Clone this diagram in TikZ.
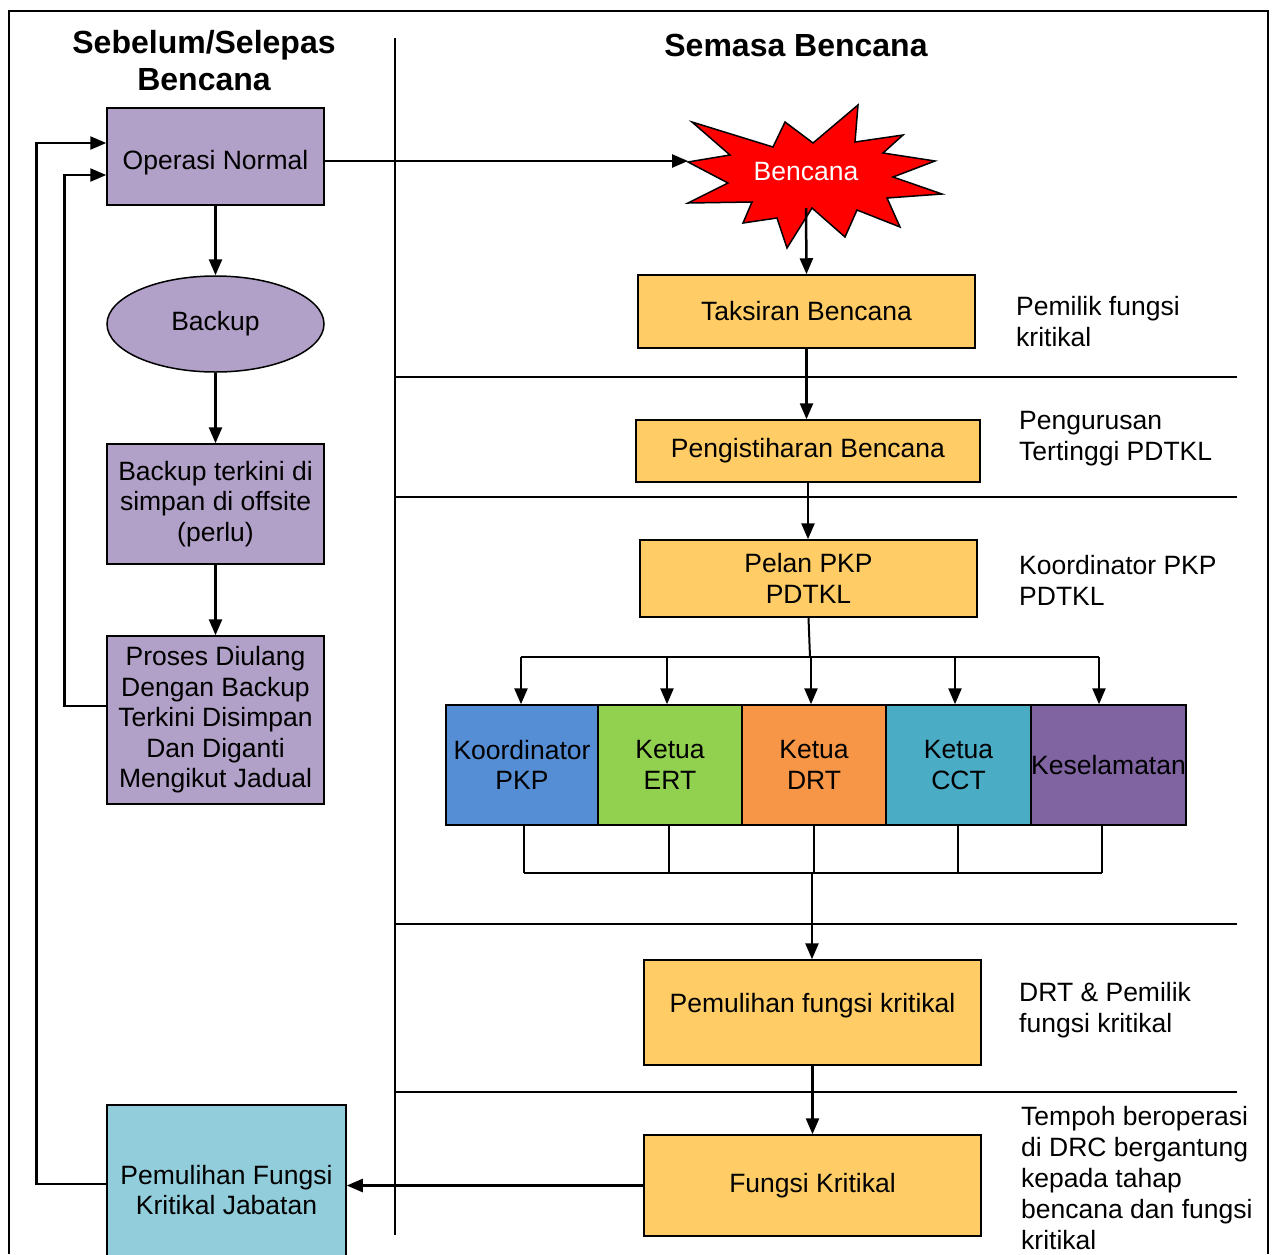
\documentclass[tikz,border=0pt]{standalone}
\usepackage{fontspec}
\setmainfont{Liberation Sans}
\usetikzlibrary{arrows.meta,shapes.geometric}
\definecolor{lilac}{HTML}{B1A0C7}
\definecolor{sand}{HTML}{FFCC66}
\definecolor{sky}{HTML}{92CDDC}
\definecolor{pkpblue}{HTML}{558ED5}
\definecolor{ertgreen}{HTML}{92D050}
\definecolor{drtorange}{HTML}{F79646}
\definecolor{cctteal}{HTML}{4BACC6}
\definecolor{kespurple}{HTML}{8064A2}
\tikzset{
  box/.style={draw,line width=1.5pt,inner sep=0pt,align=center,font=\fontsize{26.5}{30.5}\selectfont},
  role/.style={box,minimum height=120pt},
  note/.style={anchor=west,inner sep=0pt,align=left,font=\fontsize{26.5}{31}\selectfont},
  head/.style={inner sep=0pt,align=center,font=\fontsize{32}{37}\selectfont\bfseries},
  link/.style={->,line width=2.5pt},
}
\begin{document}
\begin{tikzpicture}[x=1pt,y=-1pt,>={Triangle[length=16pt,width=13pt]}]
                \useasboundingbox (0,0) rectangle (1274,1254);
                \draw[line width=1.5pt] (9,1254) -- (9,11) -- (1268,11) -- (1268,1254);
                \draw[line width=1.5pt] (395,38) -- (395,1235);
                \foreach \y in {377,497,924,1092}
                    \draw[line width=1.5pt] (395,\y) -- (1237,\y);

                \node[head] (tleft) at (204,61) {Sebelum/Selepas\\Bencana};
                \node[head] (tright) at (796,45) {Semasa Bencana};

                \node[box,fill=lilac,minimum width=217pt,minimum height=97pt,text height=32pt] (normal) at (215.5,156.5) {Operasi Normal};
                \node[box,ellipse,fill=lilac,minimum width=217pt,minimum height=96pt] (backup) at (215.5,324) {Backup};
                \node[box,fill=lilac,minimum width=217pt,minimum height=120pt] (offsite) at (215.5,504) {Backup terkini di\\simpan di offsite\\(perlu)};
                \node[box,fill=lilac,minimum width=217pt,minimum height=168pt] (ulang) at (215.5,720) {Proses Diulang\\Dengan Backup\\Terkini Disimpan\\Dan Diganti\\Mengikut Jadual};
                \node[box,fill=sky,minimum width=239pt,minimum height=170pt] (jabatan) at (226.5,1190) {Pemulihan Fungsi\\Kritikal Jabatan};

                \filldraw[fill=red,line width=1.5pt,line join=miter] (692,122) -- (773,147) -- (785,122) -- (813,143) -- (858,105) -- (855,142) -- (903,135) -- (883,153) -- (935,161) -- (893,177) -- (942,194) -- (887,198) -- (900,227) -- (857,210) -- (845,237) -- (812,208) -- (787,248) -- (777,218) -- (743,223) -- (752,202) -- (688,203) -- (728,183) -- (688,162) -- (730,155) -- cycle;
                \node[inner sep=0pt,text=white,font=\fontsize{26.5}{30.5}\selectfont] (bencana) at (806,172) {Bencana};
                \coordinate (starW) at (688,161);
                \coordinate (starS) at (806,208);

                \node[box,fill=sand,minimum width=337pt,minimum height=73pt] (taksiran) at (806.5,311.5) {Taksiran Bencana};
                \node[box,fill=sand,minimum width=344pt,minimum height=62pt] (isytihar) at (808,451) {Pengistiharan Bencana};
                \node[box,fill=sand,minimum width=337pt,minimum height=77pt] (pelan) at (808.5,578.5) {Pelan PKP\\PDTKL};
                \node[box,fill=sand,minimum width=337pt,minimum height=105pt,text depth=20pt] (pulih) at (812.5,1012.5) {Pemulihan fungsi kritikal};
                \node[box,fill=sand,minimum width=337pt,minimum height=101pt] (fungsi) at (812.5,1185.5) {Fungsi Kritikal};

                \node[role,fill=pkpblue,minimum width=152pt] (pkp) at (522,765) {Koordinator\\PKP};
                \node[role,fill=ertgreen,minimum width=144pt] (ert) at (670,765) {Ketua\\ERT};
                \node[role,fill=drtorange,minimum width=144pt] (drt) at (814,765) {Ketua\\DRT};
                \node[role,fill=cctteal,minimum width=145pt] (cct) at (958.5,765) {Ketua\\CCT};
                \node[role,fill=kespurple,minimum width=155pt] (kes) at (1108.5,765) {Keselamatan};

                \node[note] (n1) at (1016,322) {Pemilik fungsi\\kritikal};
                \node[note] (n2) at (1019,439) {Pengurusan\\Tertinggi PDTKL};
                \node[note] (n3) at (1019,580) {Koordinator PKP\\PDTKL};
                \node[note] (n4) at (1019,1010) {DRT \& Pemilik\\fungsi kritikal};
                \node[note] (n5) at (1021,1178) {Tempoh beroperasi\\di DRC bergantung\\kepada tahap\\bencana dan fungsi\\kritikal};

                \draw[link] (normal) -- (backup);
                \draw[link] (backup) -- (offsite);
                \draw[link] (offsite) -- (ulang);
                \draw[link] ([yshift=14pt]ulang.west) -- ++(-42,0) |- ([yshift=-18.5pt]normal.west);
                \draw[link] ([yshift=6pt]jabatan.west) -- ++(-70,0) |- ([yshift=13.5pt]normal.west);
                \draw[link] (normal.east |- starW) -- (starW);
                \draw[link] (starS) -- (taksiran.north);
                \draw[link] (taksiran.south) -- (taksiran.south |- isytihar.north);
                \draw[link] (isytihar.south) -- (isytihar.south |- pelan.north);

                \coordinate (busA) at (810,657);
                \draw[line width=2pt] (pelan.south) -- (busA);
                \draw[line width=2.5pt] ([xshift=-1pt]busA -| pkp.north) -- ([xshift=-9.5pt]busA -| kes.north);
                \foreach \r/\dx in {pkp/-1,ert/-3,drt/-3,cct/-3.5,kes/-9.5}
                    \draw[link] ([xshift=\dx pt]busA -| \r.north) -- ([xshift=\dx pt]\r.north);

                \coordinate (busB) at (812,873);
                \foreach \r/\dx in {pkp/2,ert/-1,drt/0,cct/-0.5,kes/-6.5}
                    \draw[line width=1.5pt] ([xshift=\dx pt]\r.south) -- ([xshift=\dx pt]busB -| \r.south);
                \draw[line width=1.5pt] ([xshift=2pt]busB -| pkp.south) -- ([xshift=-6.5pt]busB -| kes.south);
                \draw[link] (busB) -- (busB |- pulih.north);
                \draw[link] (pulih.south) -- (pulih.south |- fungsi.north);
                \draw[link] (fungsi.west) -- (fungsi.west -| jabatan.east);
            \end{tikzpicture}
\end{document}
